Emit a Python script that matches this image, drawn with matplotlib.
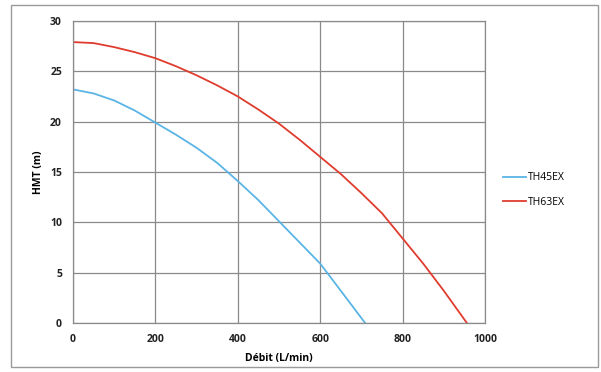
import matplotlib
matplotlib.use("Agg")
import matplotlib.pyplot as plt
from matplotlib.patches import Rectangle

plt.rcParams['font.family'] = ['Open Sans', 'DejaVu Sans']

# flow (L/min) and head (m)
th45_flow = [0, 50, 100, 150, 200, 250, 300, 350, 400, 450, 500, 550, 600, 650, 709]
th45_head = [23.2, 22.8, 22.1, 21.1, 19.9, 18.7, 17.4, 15.9, 14.1, 12.2, 10.1, 8.0, 5.9, 3.2, 0.0]

th63_flow = [0, 50, 100, 150, 200, 250, 300, 350, 400, 450, 500, 550, 600, 650, 700,
             750, 800, 850, 900, 956]
th63_head = [27.9, 27.8, 27.4, 26.9, 26.3, 25.5, 24.6, 23.6, 22.5, 21.2, 19.8, 18.2, 16.5,
             14.8, 12.9, 10.9, 8.4, 5.9, 3.2, 0.0]

x_ticks = [0, 200, 400, 600, 800, 1000]
y_ticks = [0, 5, 10, 15, 20, 25, 30]

fig = plt.figure(figsize=(6.01, 3.72), dpi=100)
ax = fig.add_axes([0.1215, 0.1317, 0.6855, 0.812])

ax.plot(th45_flow, th45_head, color='#5ab4e5', lw=1.3, label='TH45EX')
ax.plot(th63_flow, th63_head, color='#e03c2e', lw=1.3, label='TH63EX')

ax.set_xlim(0, 1000)
ax.set_ylim(0, 30)
ax.set_xticks(x_ticks)
ax.set_yticks(y_ticks)
ax.grid(True, color='#8a8a8a', lw=0.9)
ax.set_axisbelow(True)
for s in ax.spines.values():
    s.set_color('#8a8a8a')
    s.set_linewidth(0.9)
ax.tick_params(length=0, labelsize=7.5, colors='#222222', pad=8)
for lab in ax.get_xticklabels() + ax.get_yticklabels():
    lab.set_fontweight('bold')

ax.set_xlabel('Débit (L/min)', fontsize=7.5, fontweight='bold', labelpad=6)
ax.set_ylabel('HMT (m)', fontsize=7.5, fontweight='bold', labelpad=4)

ax.legend(loc='center left', bbox_to_anchor=(1.02, 0.44), frameon=False,
          fontsize=7.5, handlelength=2.2, handletextpad=0.2, labelspacing=1.3)

fig.patches.append(Rectangle((11 / 601, 1 - 367 / 372), 587 / 601, 362 / 372,
                             transform=fig.transFigure, fill=False,
                             edgecolor='#9a9a9a', lw=1.0))

fig.savefig('out.png', dpi=100)
